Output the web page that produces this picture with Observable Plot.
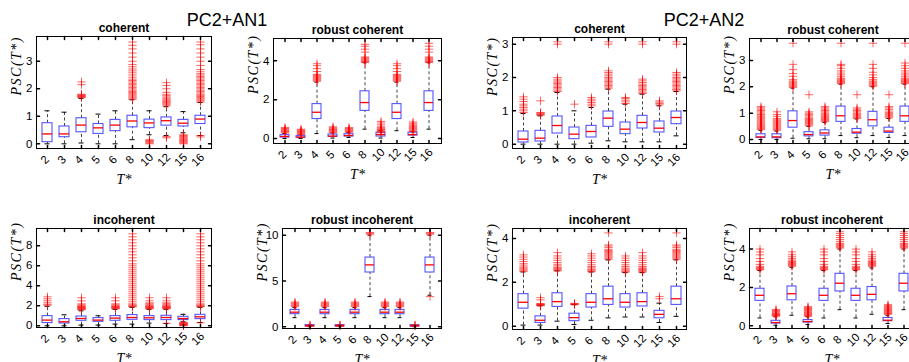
<!DOCTYPE html>
<html>
<head>
<meta charset="utf-8">
<script src="https://cdn.jsdelivr.net/npm/d3@7"></script>
<script src="https://cdn.jsdelivr.net/npm/@observablehq/plot@0.6"></script>
<style>
  body { margin: 0; background: white; }
  #root { position: relative; width: 909px; height: 362px; overflow: hidden; background: white; }
  .ttl { position: absolute; width: 200px; text-align: center; font: 18px "Liberation Sans", Arial, sans-serif; line-height: 18px; color: #000; }
  .panel { position: absolute; overflow: visible; }
</style>
</head>
<body>
<div id="root">
  <div class="ttl" style="left:127px; top:11px;">PC2+AN1</div>
  <div class="ttl" style="left:604px; top:11px;">PC2+AN2</div>
</div>
<script>
const cats = ["2","3","4","5","6","8","10","12","15","16"];

// Panel 1: PC2+AN1 coherent
const p1Q1  = [0.06,0.24,0.42,0.36,0.46,0.60,0.57,0.66,0.63,0.72];
const p1Med = [0.36,0.36,0.68,0.58,0.68,0.83,0.76,0.84,0.75,0.90];
const p1Q3  = [0.75,0.63,0.93,0.72,0.87,1.02,0.88,0.96,0.87,1.02];
const p1Lo  = [0.00,0.00,0.03,0.00,0.00,0.15,0.33,0.30,0.40,0.30];
const p1Hi  = [1.20,1.15,1.65,1.08,1.20,1.60,1.20,1.35,1.17,1.50];
const p1Out = [
  [], [],
  [1.68,1.70,1.72,1.74,1.76,1.78,1.80,2.15,2.25],
  [], [],
  [1.62,1.66,1.70,1.74,1.78,1.82,1.86,1.90,1.95,2.00,2.05,2.10,2.15,2.20,2.25,2.30,2.35,2.42,2.50,2.58,2.65,2.72,2.80,2.88,3.00,3.15,3.30,3.45,3.58,3.70],
  [0.00,0.03,0.06,0.09,0.12,0.15],
  [0.22,0.26,1.38,1.42,1.46,1.50,1.54,1.58,1.62,1.66,1.70,1.75,1.80,1.87,2.00,2.12,2.22],
  [0.00,0.03,0.06,0.09,0.12,0.15,0.18,0.21,0.24,0.27,0.30,0.33],
  [0.25,0.30,1.52,1.56,1.60,1.64,1.68,1.72,1.76,1.80,1.85,1.90,1.95,2.00,2.05,2.10,2.15,2.20,2.25,2.30,2.35,2.40,2.45,2.50,2.55,2.62,2.70,2.85,3.00,3.15,3.30,3.45,3.60,3.70]
];

// Panel 2: PC2+AN1 robust coherent
const p2Q1  = [0.05,0.03,1.00,0.08,0.10,1.42,0.10,1.00,0.15,1.42];
const p2Med = [0.10,0.07,1.35,0.12,0.15,1.85,0.20,1.35,0.20,1.85];
const p2Q3  = [0.17,0.12,1.77,0.20,0.22,2.43,0.30,1.77,0.30,2.43];
const p2Lo  = [0.00,0.00,0.25,0.02,0.05,0.48,0.02,0.40,0.05,0.48];
const p2Hi  = [0.25,0.18,2.90,0.28,0.30,3.90,0.40,2.90,0.35,3.90];
const p2Out = [
  [0.28,0.32,0.36,0.40,0.44,0.48,0.52,0.56],
  [0.20,0.24,0.28,0.32,0.36,0.40,0.44,0.48],
  [2.95,3.00,3.05,3.10,3.15,3.20,3.25,3.30,3.45,3.60,3.75,3.85],
  [0.30,0.34,0.38,0.42,0.46,0.50,0.55,0.60],
  [0.32,0.36,0.40,0.44,0.48,0.52,0.56],
  [3.92,3.96,4.00,4.05,4.10,4.15,4.20,4.45,4.60,4.75,4.85],
  [0.30,0.34,0.38,0.42,0.46,0.50,0.55,0.60,0.70,0.80,0.88],
  [2.95,3.00,3.05,3.10,3.15,3.20,3.25,3.30,3.45,3.60,3.75,3.85],
  [0.35,0.40,0.45,0.50,0.55,0.60,0.65,0.70,0.78,0.85],
  [3.92,3.96,4.00,4.05,4.10,4.15,4.20,4.45,4.60,4.75,4.90]
];

// Panel 3: PC2+AN2 coherent
const p3Q1  = [0.05,0.08,0.32,0.15,0.20,0.52,0.30,0.47,0.35,0.60];
const p3Med = [0.15,0.18,0.56,0.30,0.38,0.78,0.45,0.65,0.48,0.80];
const p3Q3  = [0.38,0.40,0.83,0.50,0.55,0.98,0.65,0.85,0.68,0.98];
const p3Lo  = [0.00,0.00,0.00,0.00,0.03,0.10,0.07,0.07,0.07,0.25];
const p3Hi  = [0.92,0.85,1.55,1.00,1.10,1.65,1.20,1.50,1.15,1.58];
const p3Out = [
  [0.95,1.00,1.05,1.10,1.15,1.20,1.28,1.35,1.42],
  [0.87,0.89,0.91,0.93,0.95,1.30],
  [1.58,1.62,1.66,1.70,1.74,1.78,1.82,1.86,1.90,1.95,2.00,3.00,3.07],
  [1.20],
  [1.15,1.20,1.25,1.30,1.35,1.40],
  [1.68,1.72,1.76,1.80,1.84,1.88,1.92,1.96,2.00,2.05,2.10,2.15,2.20,3.00,3.07],
  [1.22,1.27,1.32,1.37,1.40],
  [1.52,1.56,1.60,1.64,1.68,1.72,1.76,1.80,1.85,1.90,1.95,3.00,3.07],
  [1.18,1.22,1.26,1.30],
  [1.60,1.64,1.68,1.72,1.76,1.80,1.84,1.88,1.92,1.96,2.00,2.05,2.10,2.15,3.00,3.07]
];

// Panel 4: PC2+AN2 robust coherent
const p4Q1  = [0.06,0.05,0.45,0.12,0.15,0.67,0.22,0.50,0.25,0.67];
const p4Med = [0.10,0.10,0.72,0.19,0.25,0.90,0.28,0.75,0.32,0.90];
const p4Q3  = [0.20,0.20,1.07,0.28,0.35,1.25,0.40,1.05,0.45,1.25];
const p4Lo  = [0.00,0.00,0.05,0.03,0.03,0.15,0.07,0.15,0.08,0.15];
const p4Hi  = [0.35,0.32,1.95,0.50,0.65,2.10,0.78,2.00,0.80,2.10];
const p4Out = [
  [0.38,0.42,0.46,0.50,0.54,0.58,0.62,0.66,0.70,0.74,0.78,0.82,0.86,0.90,0.95,1.00,1.05,1.10,1.15,1.20,1.25],
  [0.35,0.39,0.43,0.47,0.51,0.55,0.59,0.63,0.67,0.71,0.75,0.80,0.88,0.95,1.05],
  [1.98,2.02,2.06,2.10,2.14,2.18,2.22,2.28,2.40,2.50,2.65,2.85,3.65],
  [0.52,0.56,0.60,0.64,0.68,0.72,0.76,0.80,0.85,0.90,0.95,1.00,1.05,1.70],
  [0.68,0.72,0.76,0.80,0.84,0.88,0.92,0.96,1.00,1.05,1.10,1.15,1.20,1.25],
  [2.12,2.16,2.20,2.24,2.28,2.32,2.38,2.45,2.52,2.60,2.70,2.80,2.85,3.65],
  [0.80,0.84,0.88,0.92,0.96,1.00,1.05,1.10,1.15,1.20,1.70],
  [2.02,2.06,2.10,2.14,2.18,2.22,2.28,2.35,2.45,2.55,2.70,2.85,3.65],
  [0.82,0.86,0.90,0.94,0.98,1.02,1.08,1.14,1.20,1.25,1.70],
  [2.12,2.16,2.20,2.24,2.28,2.32,2.38,2.45,2.52,2.60,2.70,2.80,2.90,3.65]
];

// Panel 5: PC2+AN1 incoherent
const p5Q1  = [0.27,0.23,0.50,0.40,0.50,0.60,0.57,0.57,0.57,0.67];
const p5Med = [0.57,0.40,0.73,0.57,0.77,0.83,0.80,0.83,0.73,0.90];
const p5Q3  = [0.97,0.67,0.93,0.77,0.97,1.07,0.97,1.00,0.90,1.10];
const p5Lo  = [0.00,0.00,0.07,0.07,0.17,0.17,0.27,0.23,0.40,0.33];
const p5Hi  = [1.95,1.10,1.50,1.00,1.65,1.85,1.65,1.65,1.15,1.85];
const p5Out = [
  [2.05,2.15,2.30,2.50,2.70,2.90],
  [],
  [1.60,1.65,1.70,1.75,1.80,1.85,1.90,1.95,2.00,2.10,2.20,2.50,2.80],
  [],
  [1.70,1.75,1.80,1.85,1.90,1.95,2.00,2.10,2.20,2.50,2.80],
  [1.90,1.95,2.00,2.10,2.20,2.40,2.60,2.80,3.00,3.20,3.40,3.60,3.80,4.00,4.20,4.40,4.60,4.80,5.00,5.20,5.40,5.60,5.80,6.00,6.20,6.50,6.80,7.10,7.40,7.70,8.00,8.30,8.60,8.90,9.20],
  [1.70,1.75,1.80,1.85,1.90,1.95,2.00,2.10,2.20,2.30,2.50,2.80],
  [0.25,1.70,1.75,1.80,1.85,1.90,1.95,2.00,2.10,2.20,2.30,2.50,2.80],
  [0.00,0.04,0.08,0.12,0.16,0.20,0.25,0.30,0.35],
  [0.30,1.90,1.95,2.00,2.10,2.20,2.40,2.60,2.80,3.00,3.20,3.40,3.60,3.80,4.00,4.20,4.40,4.60,4.80,5.00,5.20,5.40,5.60,5.80,6.00,6.20,6.50,6.80,7.10,7.40,7.70,8.00,8.30,8.60,8.90,9.20]
];

// Panel 6: PC2+AN1 robust incoherent
const p6Q1  = [1.38,0.05,1.38,0.05,1.38,5.93,1.38,1.38,0.05,5.93];
const p6Med = [1.60,0.10,1.60,0.10,1.60,6.76,1.60,1.60,0.10,6.76];
const p6Q3  = [1.85,0.18,1.85,0.18,1.85,7.56,1.85,1.85,0.18,7.56];
const p6Lo  = [1.00,0.02,1.00,0.02,1.00,3.30,1.00,1.00,0.02,3.45];
const p6Hi  = [2.10,0.22,2.10,0.22,2.10,10.0,2.10,2.10,0.22,10.0];
const p6Out = [
  [2.20,2.30,2.40,2.50,2.60,2.70],
  [0.12,0.16,0.20],
  [2.20,2.30,2.40,2.50,2.60,2.70],
  [0.12,0.16,0.20],
  [2.20,2.30,2.40,2.50,2.60,2.70],
  [10.10,10.20,10.30],
  [2.20,2.30,2.40,2.50,2.60,2.70],
  [2.20,2.30,2.40,2.50,2.60,2.70],
  [0.12,0.16,0.20],
  [3.30,10.10,10.20,10.30]
];

// Panel 7: PC2+AN2 incoherent
const p7Q1  = [0.80,0.15,0.88,0.23,0.85,0.97,0.85,0.90,0.36,0.97];
const p7Med = [1.09,0.27,1.12,0.39,1.09,1.25,1.09,1.12,0.54,1.25];
const p7Q3  = [1.46,0.45,1.50,0.57,1.46,1.80,1.46,1.50,0.70,1.80];
const p7Lo  = [0.05,0.05,0.23,0.08,0.27,0.38,0.42,0.42,0.17,0.45];
const p7Hi  = [2.47,0.93,2.52,0.98,2.47,3.02,2.44,2.44,1.05,3.02];
const p7Out = [
  [2.50,2.55,2.60,2.65,2.70,2.78,2.85,2.95,3.05,3.15,3.25],
  [0.93,0.95,0.97,0.99,1.01,1.03,1.20,1.30],
  [2.52,2.56,2.60,2.64,2.68,2.75,2.82,2.90,3.00,3.10,3.20,3.35],
  [0.98,1.00,1.02,1.04],
  [2.48,2.52,2.56,2.60,2.66,2.72,2.80,2.90,3.00,3.10,3.20,3.30],
  [3.05,3.10,3.15,3.20,3.25,3.30,3.35,3.40,3.45,3.50,3.58,3.65,3.70,4.25],
  [2.46,2.50,2.55,2.60,2.65,2.72,2.80,2.90,3.00,3.10,3.20],
  [2.46,2.50,2.54,2.58,2.62,2.66,2.72,2.80,2.90,3.00,3.10,3.20,3.35],
  [1.25,1.35],
  [3.05,3.10,3.15,3.20,3.25,3.30,3.35,3.40,3.45,3.50,3.58,3.65,3.70,4.25]
];

// Panel 8: PC2+AN2 robust incoherent
const p8Q1  = [1.30,0.12,1.33,0.17,1.30,1.79,1.30,1.33,0.24,1.79];
const p8Med = [1.59,0.17,1.67,0.22,1.59,2.22,1.59,1.64,0.29,2.22];
const p8Q3  = [1.93,0.26,2.05,0.30,1.93,2.71,1.93,2.02,0.41,2.71];
const p8Lo  = [0.41,0.03,0.55,0.07,0.41,0.84,0.41,0.60,0.12,0.84];
const p8Hi  = [2.88,0.47,3.05,0.47,2.88,4.00,2.88,3.02,0.55,4.00];
const p8Out = [
  [2.92,2.96,3.00,3.04,3.10,3.20,3.35,3.50,3.70,3.85,4.00],
  [0.50,0.53,0.56,0.59,0.62,0.65,0.70,0.75,0.80,0.85],
  [3.10,3.15,3.20,3.25,3.30,3.35,3.42,3.50,3.60,3.70,3.85],
  [0.50,0.54,0.58,0.62,0.66,0.70,0.75,0.80,0.85,0.90,0.95,1.00],
  [2.92,2.96,3.00,3.04,3.10,3.20,3.35,3.50,3.70,3.85,4.00],
  [4.05,4.10,4.15,4.20,4.25,4.30,4.40,4.50,4.60,4.70,4.80,4.90],
  [2.92,2.96,3.00,3.04,3.10,3.20,3.35,3.50,3.70,3.85,4.00],
  [3.10,3.15,3.20,3.25,3.30,3.35,3.42,3.50,3.60,3.70,3.85],
  [0.60,0.64,0.68,0.72,0.76,0.80,0.85,0.90,0.95,1.00,1.05,1.10],
  [4.05,4.10,4.15,4.20,4.25,4.30,4.40,4.50,4.60,4.70,4.80,4.90]
];

const titles = ["coherent","robust coherent","coherent","robust coherent","incoherent","robust incoherent","incoherent","robust incoherent"];
const yTicks = [[0,1,2,3],[0,2,4],[0,1,2,3],[0,1,2,3],[0,2,4,6,8],[0,5,10],[0,2,4],[0,2,4]];
const yDomains = [[-0.17,3.9],[-0.26,5.15],[-0.13,3.2],[-0.15,3.83],[-0.17,9.73],[-0.18,10.73],[-0.15,4.45],[-0.14,5.07]];
const yLabel = "PSC(T*)";
const xLabel = "T*";

const series = [
  [p1Q1,p1Med,p1Q3,p1Lo,p1Hi,p1Out],
  [p2Q1,p2Med,p2Q3,p2Lo,p2Hi,p2Out],
  [p3Q1,p3Med,p3Q3,p3Lo,p3Hi,p3Out],
  [p4Q1,p4Med,p4Q3,p4Lo,p4Hi,p4Out],
  [p5Q1,p5Med,p5Q3,p5Lo,p5Hi,p5Out],
  [p6Q1,p6Med,p6Q3,p6Lo,p6Hi,p6Out],
  [p7Q1,p7Med,p7Q3,p7Lo,p7Hi,p7Out],
  [p8Q1,p8Med,p8Q3,p8Lo,p8Hi,p8Out]
];

// layout: frame left, top, width, height (pixels)
const frames = [
  [36,36,175,112],[273,38,168,105],[512,37,174,111],[749,38,167,105],
  [36,228,175,99],[282,228,159,100],[512,228,174,101],[749,228,165,100]
];

const ML = 45, MR = 10, MT = 28, MB = 42;
const tickShape = {draw(ctx, l) { ctx.moveTo(0, 0); ctx.lineTo(0, -l); }};
const sans = "Liberation Sans, Arial, Helvetica, sans-serif";
const serif = "Liberation Serif, Times New Roman, serif";
const root = document.getElementById("root");

series.forEach((s, k) => {
  const [q1, med, q3, lo, hi, out] = s;
  const rows = cats.map((c, i) => ({cat: c, q1: q1[i], med: med[i], q3: q3[i], lo: lo[i], hi: hi[i]}));
  const outs = cats.flatMap((c, i) => out[i].map(v => ({cat: c, v})));
  const [fl, ft, fw, fh] = frames[k];
  const chart = Plot.plot({
    width: fw + ML + MR,
    height: fh + MT + MB,
    marginLeft: ML, marginRight: MR, marginTop: MT, marginBottom: MB,
    x: {type: "band", domain: cats, paddingInner: 0.43, paddingOuter: 0.215, axis: null},
    y: {domain: yDomains[k], axis: null},
    style: {overflow: "visible", fontFamily: sans, fontSize: "11px", background: "transparent", color: "black"},
    marks: [
      Plot.ruleX(rows, {x: "cat", y1: "q3", y2: "hi", stroke: "#444", strokeDasharray: "3,2.5"}),
      Plot.ruleX(rows, {x: "cat", y1: "lo", y2: "q1", stroke: "#444", strokeDasharray: "3,2.5"}),
      Plot.tickY(rows, {x: "cat", y: "hi", stroke: "black", insetLeft: 2.5, insetRight: 2.5}),
      Plot.tickY(rows, {x: "cat", y: "lo", stroke: "black", insetLeft: 2.5, insetRight: 2.5}),
      Plot.barY(rows, {x: "cat", y1: "q1", y2: "q3", fill: "none", stroke: "#5555ff", strokeWidth: 1.1}),
      Plot.tickY(rows, {x: "cat", y: "med", stroke: "red", strokeWidth: 1.3}),
      Plot.dot(outs, {x: "cat", y: "v", symbol: "plus", stroke: "red", r: 2.8, strokeOpacity: 0.6, strokeWidth: 1}),
      Plot.frame({stroke: "black"}),
      Plot.vector(yTicks[k], {y: d => d, frameAnchor: "left", rotate: 90, length: 3, anchor: "start", shape: tickShape, stroke: "black"}),
      Plot.vector(yTicks[k], {y: d => d, frameAnchor: "right", rotate: -90, length: 3, anchor: "start", shape: tickShape, stroke: "black"}),
      Plot.vector(cats, {x: d => d, frameAnchor: "bottom", rotate: 0, length: 3, anchor: "start", shape: tickShape, stroke: "black"}),
      Plot.vector(cats, {x: d => d, frameAnchor: "top", rotate: 180, length: 3, anchor: "start", shape: tickShape, stroke: "black"}),
      Plot.text(yTicks[k], {y: d => d, text: d => String(d), frameAnchor: "left", textAnchor: "end", dx: -4, fontSize: 11.5}),
      Plot.text(cats, {x: d => d, text: d => d, frameAnchor: "bottom", dy: 14, rotate: -45, fontSize: 11.5}),
      Plot.text([titles[k]], {text: d => d, frameAnchor: "top", dy: -5, lineAnchor: "bottom", fontWeight: "bold", fontSize: 12}),
      Plot.text([yLabel], {text: d => d, frameAnchor: "left", dx: -20, dy: 3, rotate: -90, fontFamily: serif, fontStyle: "italic", fontSize: 14, ariaDescription: "ylab"}),
      Plot.text([xLabel], {text: d => d, frameAnchor: "bottom", dy: 35, lineAnchor: "bottom", fontFamily: serif, fontStyle: "italic", fontSize: 14})
    ]
  });
  chart.classList.add("panel");
  chart.style.left = (fl - ML) + "px";
  chart.style.top = (ft - MT) + "px";
  chart.style.maxWidth = "none";
  root.appendChild(chart);
  d3.select(chart).selectAll("g[aria-description='ylab'] text").style("letter-spacing", "1.5px");
});
</script>
</body>
</html>
